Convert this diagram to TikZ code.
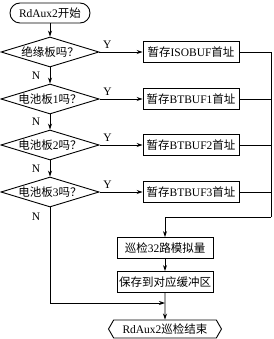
\documentclass[tikz,border=0pt]{standalone}
\usepackage{fontspec}
\setmainfont{Liberation Serif}
\newfontfamily\cjk{Noto Sans CJK SC}
\newcommand{\zh}[1]{{\cjk #1}}
\usetikzlibrary{shapes.geometric, shapes.symbols, arrows.meta, positioning}
\tikzset{
	startstop/.style={rectangle, rounded corners=10pt, minimum width=80pt, minimum height=20pt, inner sep=2pt, draw=black, line width=0.9pt},
	decision/.style ={diamond, aspect=3.3, minimum width=98pt, minimum height=30pt, inner sep=0pt, draw=black, line width=0.9pt},
	process/.style  ={rectangle, minimum width=96pt, minimum height=21pt, inner sep=1pt, draw=black, line width=0.9pt},
	stopbox/.style  ={signal, signal to=west and east, signal pointer angle=120, minimum width=113pt, minimum height=18pt, inner sep=1pt, draw=black, line width=0.9pt},
	flowarrow/.style={-{Stealth[length=6pt, width=4pt]}, line width=0.9pt},
	link/.style     ={line width=0.9pt},
}
\begin{document}
\begin{tikzpicture}[x=1pt, y=1pt, font=\fontsize{11.5}{13}\selectfont]
	\useasboundingbox (0,0) rectangle (273,-339);
	% main column
	\node[startstop] (st) at (50,-13) {RdAux2\zh{开始}};
	\node[decision] (q0) at (50,-52) {\zh{绝缘板吗？}};
	\node[decision] (q1) at (50,-99) {\zh{电池板}1\zh{吗？}};
	\node[decision] (q2) at (50,-145) {\zh{电池板}2\zh{吗？}};
	\node[decision] (q3) at (50,-192) {\zh{电池板}3\zh{吗？}};
	% store boxes
	\node[process] (s0) at (191,-52) {\zh{暂存}ISOBUF\zh{首址}};
	\node[process] (s1) at (191,-99) {\zh{暂存}BTBUF1\zh{首址}};
	\node[process] (s2) at (191,-145) {\zh{暂存}BTBUF2\zh{首址}};
	\node[process] (s3) at (191,-192) {\zh{暂存}BTBUF3\zh{首址}};
	\node[process] (scan) at (165,-248) {\zh{巡检}32\zh{路模拟量}};
	\node[process] (save) at (165,-282) {\zh{保存到对应缓冲区}};
	\node[stopbox] (fin) at (165,-329) {RdAux2\zh{巡检结束}};
	\coordinate (bus) at (271,-217);
	\coordinate (join) at (165,-303);
	\draw[flowarrow] (st) -- (q0);
	\draw[flowarrow] (q0) -- node[left, xshift=-6pt]{N} (q1);
	\draw[flowarrow] (q1) -- node[left, xshift=-6pt]{N} (q2);
	\draw[flowarrow] (q2) -- node[left, xshift=-6pt]{N} (q3);
	\draw[flowarrow] (q0.east) -- node[above right, pos=0]{Y} (s0.west);
	\draw[flowarrow] (q1.east) -- node[above right, pos=0]{Y} (s1.west);
	\draw[flowarrow] (q2.east) -- node[above right, pos=0]{Y} (s2.west);
	\draw[flowarrow] (q3.east) -- node[above right, pos=0]{Y} (s3.west);
	% right bus
	\draw[link] (s0.east) -| (bus);
	\draw[link] (s1.east) -- (s1.east -| bus);
	\draw[link] (s2.east) -- (s2.east -| bus);
	\draw[link] (s3.east) -- (s3.east -| bus);
	\draw[flowarrow] (bus) -| (scan.north);
	\draw[flowarrow] (scan) -- (save);
	\draw[flowarrow] (save) -- (fin);
	\draw[flowarrow] (q3.south) |- node[left, xshift=-6pt, pos=0.05]{N} (join);
\end{tikzpicture}
\end{document}
